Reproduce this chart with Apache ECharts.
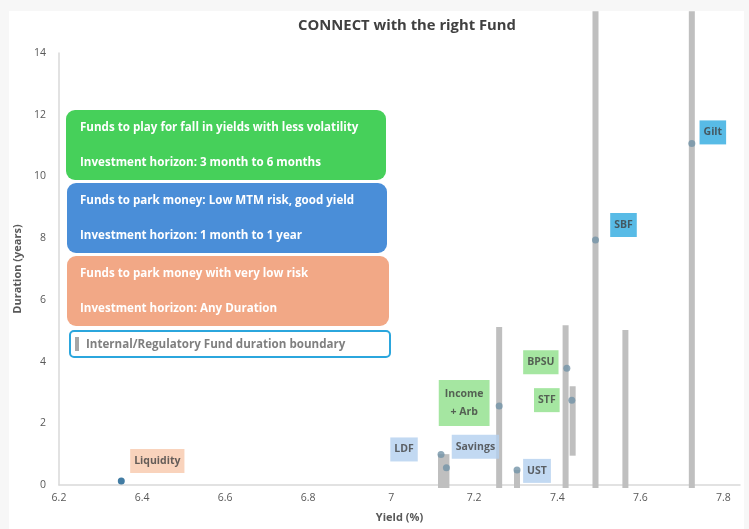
<!DOCTYPE html>
<html>
<head>
<meta charset="utf-8">
<script src="https://cdn.jsdelivr.net/npm/echarts@6/dist/echarts.min.js"></script>
<style>
html,body{margin:0;padding:0;background:#f7f7f7;}
#chart{width:749px;height:529px;}
</style>
</head>
<body>
<div id="chart"></div>
<script>
// ---- Data ----
const fundNames = ['Liquidity', 'LDF', 'Savings', 'Income\n+ Arb', 'UST', 'BPSU', 'STF', 'SBF', 'Gilt'];
const fundYield = [6.35, 7.12, 7.133, 7.26, 7.303, 7.423, 7.435, 7.492, 7.724];
const fundDuration = [0.13, 0.99, 0.56, 2.56, 0.49, 3.78, 2.75, 7.94, 11.07];
const fundGroup = ['low', 'park', 'park', 'fall', 'park', 'fall', 'fall', 'gsec', 'gsec'];

const boundaryYield = [7.12, 7.133, 7.26, 7.303, 7.42, 7.437, 7.492, 7.564, 7.724];
const boundaryLow   = [0, 0, 0, 0, 0, 0.95, 0, 0, 0];
const boundaryHigh  = [1.0, 1.0, 5.12, 0.49, 5.18, 3.2, 15.35, 5.02, 15.35];

const xTicks = { min: 6.2, max: 7.84, interval: 0.2 };
const yTicks = { min: 0, max: 14, interval: 2 };

const textBoxes = [
  { color: '#46d05a', line1: 'Funds to play for fall in yields with less volatility', line2: 'Investment horizon: 3 month to 6 months' },
  { color: '#4a8ed8', line1: 'Funds to park money: Low MTM risk, good yield', line2: 'Investment horizon: 1 month to 1 year' },
  { color: '#f2a886', line1: 'Funds to park money with very low risk', line2: 'Investment horizon: Any Duration' }
];
const legendText = 'Internal/Regulatory Fund duration boundary';

// ---- Styles ----
const FONT = '"Open Sans"';
const groupBg = { low: '#f8c8ab', park: '#b3d0ef', fall: '#8fe08a', gsec: '#2eaae0' };
const labelOffsets = [[36, -20], [-37, -5], [29, -21], [-35, -3], [20, 1], [-26, -6], [-25, 0], [28, -15], [21, -11]];

const scatterData = fundNames.map((n, i) => ({
  value: [fundYield[i], fundDuration[i]],
  name: n,
  itemStyle: { color: i === 0 ? '#135b8c' : '#7393a8' },
  label: {
    show: true,
    formatter: n,
    position: 'inside',
    offset: labelOffsets[i],
    backgroundColor: groupBg[fundGroup[i]],
    color: '#404040',
    fontFamily: FONT,
    fontWeight: 'bold',
    fontSize: 10.5,
    lineHeight: 18,
    padding: i === 3 ? [5, 6] : [3, 4],
    align: 'center',
    verticalAlign: 'middle'
  }
}));

const barData = boundaryYield.map((x, i) => [x, boundaryLow[i], boundaryHigh[i]]);

const graphics = [
  { type: 'rect', shape: { x: 9, y: 11, width: 735, height: 518 }, style: { fill: '#ffffff' }, z: -100, silent: true }
];
const boxTops = [110, 183, 256];
textBoxes.forEach((b, i) => {
  const top = boxTops[i];
  graphics.push({ type: 'rect', shape: { x: 66 + (i ? 1 : 0), y: top, width: 320 + (i === 2 ? 2 : 0), height: 70, r: 9 }, style: { fill: b.color }, z: 50 });
  graphics.push({ type: 'text', x: 80, y: top + 18, style: { text: b.line1, fill: '#ffffff', font: 'bold 11.6px ' + FONT, verticalAlign: 'middle' }, z: 51 });
  graphics.push({ type: 'text', x: 80, y: top + 53, style: { text: b.line2, fill: '#ffffff', font: 'bold 11.6px ' + FONT, verticalAlign: 'middle' }, z: 51 });
});
graphics.push({ type: 'rect', shape: { x: 70, y: 331, width: 320, height: 26, r: 4 }, style: { fill: '#ffffff', stroke: '#2ba6dd', lineWidth: 2 }, z: 50 });
graphics.push({ type: 'rect', shape: { x: 75, y: 337, width: 4, height: 14 }, style: { fill: '#a6a6a6' }, z: 51 });
graphics.push({ type: 'text', x: 86, y: 345, style: { text: legendText, fill: '#7f7f7f', font: 'bold 11.6px ' + FONT, verticalAlign: 'middle' }, z: 51 });

const chart = echarts.init(document.getElementById('chart'));
chart.setOption({
  backgroundColor: '#f7f7f7',
  animation: false,
  title: {
    text: 'CONNECT with the right Fund',
    left: 402, top: 13, textAlign: 'center',
    textStyle: { fontFamily: FONT, fontWeight: 'bold', fontSize: 14.8, color: '#404040' }
  },
  grid: { left: 59, right: 9, top: 53, bottom: 44, containLabel: false },
  xAxis: {
    type: 'value', min: xTicks.min, max: xTicks.max, interval: xTicks.interval,
    name: 'Yield (%)', nameLocation: 'middle', nameGap: 27,
    nameTextStyle: { fontFamily: FONT, fontWeight: 'bold', fontSize: 11, color: '#595959' },
    axisLine: { show: true, onZero: false, lineStyle: { color: '#d9d9d9', width: 1.5 } },
    axisTick: { show: false },
    splitLine: { show: false },
    axisLabel: { showMaxLabel: false, margin: 8, fontFamily: FONT, fontSize: 10.5, color: '#595959', formatter: v => String(+v.toFixed(1)) }
  },
  yAxis: {
    type: 'value', min: yTicks.min, max: yTicks.max, interval: yTicks.interval,
    name: 'Duration (years)', nameLocation: 'middle', nameGap: 33, nameRotate: 90,
    nameTextStyle: { fontFamily: FONT, fontWeight: 'bold', fontSize: 11, color: '#595959' },
    axisLine: { show: true, lineStyle: { color: '#d9d9d9', width: 1.5 } },
    axisTick: { show: false },
    splitLine: { show: false },
    axisLabel: { margin: 13, fontFamily: FONT, fontSize: 10.5, color: '#595959' }
  },
  graphic: graphics,
  series: [
    {
      type: 'custom',
      name: 'boundary',
      clip: false,
      z: 2,
      data: barData,
      renderItem: function (params, api) {
        const x = api.value(0);
        const p1 = api.coord([x, api.value(1)]);
        const p2 = api.coord([x, api.value(2)]);
        const w = 6;
        return {
          type: 'rect',
          shape: { x: p1[0] - w / 2, y: p2[1], width: w, height: p1[1] - p2[1] + (api.value(1) === 0 ? 3 : 0) },
          style: { fill: '#bfbfbf' }
        };
      }
    },
    {
      type: 'scatter',
      name: 'funds',
      symbolSize: 7,
      z: 5,
      data: scatterData
    }
  ]
});
</script>
</body>
</html>
